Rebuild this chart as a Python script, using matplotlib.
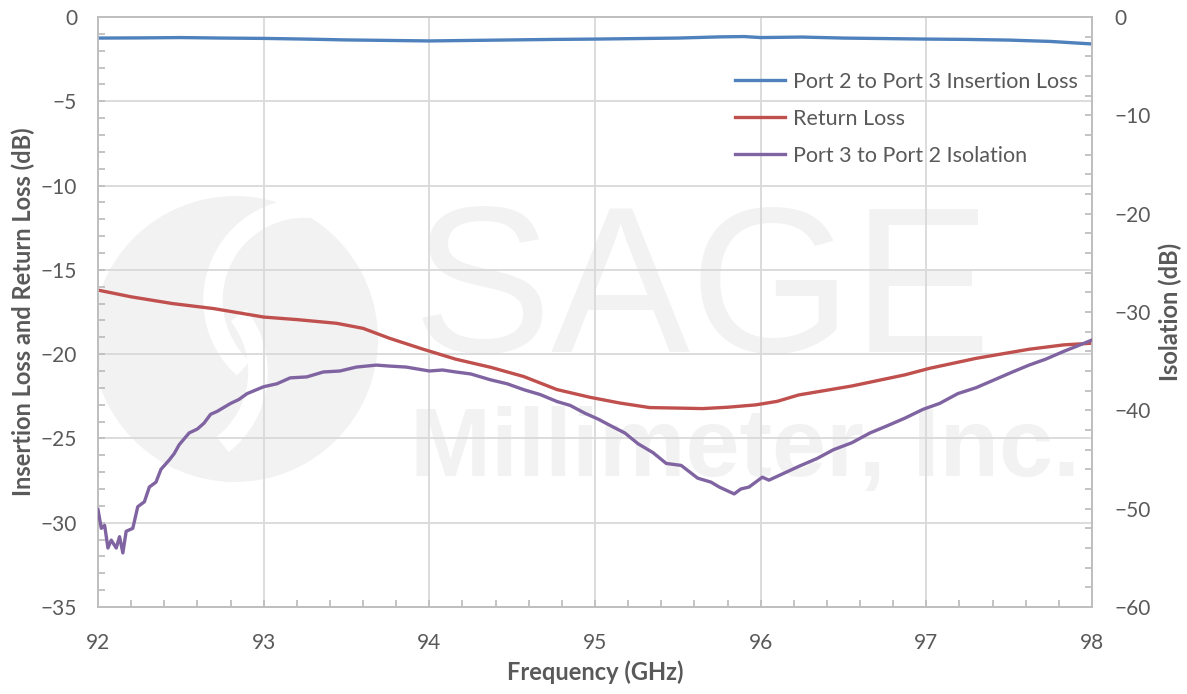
import matplotlib
matplotlib.use('Agg')
import matplotlib.pyplot as plt
from matplotlib.patches import Circle, Arc
from matplotlib.ticker import MultipleLocator
from matplotlib.lines import Line2D

plt.rcParams['font.family'] = ['Lato', 'DejaVu Sans']

# data
freq_il = [92.0, 92.25, 92.5, 92.75, 93.0, 93.25, 93.5, 93.75, 94.0, 94.25, 94.5,
           94.75, 95.0, 95.25, 95.5, 95.75, 95.9, 96.0, 96.25, 96.5, 96.75, 97.0,
           97.25, 97.5, 97.75, 98.0]
insertion_loss = [-1.25, -1.24, -1.22, -1.25, -1.27, -1.31, -1.36, -1.39, -1.42, -1.39,
                  -1.36, -1.33, -1.31, -1.28, -1.25, -1.18, -1.16, -1.22, -1.19, -1.25,
                  -1.28, -1.31, -1.33, -1.37, -1.45, -1.60]

freq_rl = [92.0, 92.2, 92.45, 92.7, 93.0, 93.2, 93.44, 93.6, 93.76, 93.96, 94.16,
           94.37, 94.57, 94.77, 94.97, 95.15, 95.33, 95.5, 95.65, 95.8, 95.97, 96.1,
           96.23, 96.55, 96.87, 97.02, 97.3, 97.62, 97.83, 98.0]
return_loss = [-16.2, -16.6, -17.0, -17.3, -17.8, -17.95, -18.17, -18.47, -19.06, -19.7,
               -20.3, -20.78, -21.33, -22.1, -22.56, -22.9, -23.17, -23.2, -23.23, -23.15,
               -23.01, -22.8, -22.42, -21.89, -21.23, -20.84, -20.25, -19.71, -19.45, -19.35]

freq_iso = [92.0, 92.02, 92.04, 92.06, 92.08, 92.11, 92.13, 92.15, 92.17, 92.21, 92.24,
            92.28, 92.31, 92.35, 92.38, 92.43, 92.46, 92.49, 92.55, 92.6, 92.64, 92.68,
            92.72, 92.8, 92.85, 92.9, 93.0, 93.08, 93.16, 93.26, 93.36, 93.46, 93.56,
            93.68, 93.76, 93.86, 94.0, 94.08, 94.16, 94.25, 94.37, 94.47, 94.57, 94.67,
            94.77, 94.85, 94.94, 95.02, 95.11, 95.18, 95.26, 95.35, 95.43, 95.52, 95.62,
            95.7, 95.75, 95.84, 95.88, 95.93, 96.01, 96.05, 96.14, 96.23, 96.34, 96.44,
            96.55, 96.66, 96.76, 96.87, 96.98, 97.08, 97.19, 97.3, 97.41, 97.52, 97.62,
            97.72, 97.83, 97.92, 98.0]
isolation = [-50.1, -52.0, -51.7, -54.0, -53.2, -54.0, -52.85, -54.5, -52.3, -52.0, -49.8,
             -49.3, -47.8, -47.3, -46.0, -45.05, -44.4, -43.5, -42.3, -41.9, -41.3, -40.4,
             -40.1, -39.3, -38.9, -38.3, -37.6, -37.3, -36.7, -36.6, -36.1, -36.0, -35.6,
             -35.4, -35.5, -35.6, -36.0, -35.9, -36.1, -36.3, -36.9, -37.3, -37.9, -38.4,
             -39.1, -39.5, -40.3, -40.9, -41.7, -42.3, -43.4, -44.3, -45.4, -45.6, -46.9,
             -47.3, -47.8, -48.5, -48.0, -47.8, -46.8, -47.1, -46.4, -45.7, -44.9, -44.0,
             -43.3, -42.3, -41.6, -40.8, -39.9, -39.3, -38.3, -37.7, -36.9, -36.1, -35.4,
             -34.8, -34.0, -33.4, -32.85]

labels = ['Port 2 to Port 3 Insertion Loss', 'Return Loss', 'Port 3 to Port 2 Isolation']
colors = ['#4F81BD', '#C0504D', '#8064A2']

grid_c = '#D9D9D9'
spine_c = '#BFBFBF'
text_c = '#595959'
wm_c = '#F2F2F2'
H = 6.94  # figure height in inches, used to place the watermark from the top

fig = plt.figure(figsize=(11.87, 6.94), dpi=100)
ax = fig.add_axes([98 / 1187, 1 - 607 / 694, 994 / 1187, 590 / 694])
ax2 = ax.twinx()

# watermark (logo + company name) behind the grid
ax.add_patch(Circle((2.35, H - 3.39), 1.43, transform=fig.dpi_scale_trans,
                    color=wm_c, zorder=0, lw=0))
ax.add_patch(Arc((3.05, H - 3.0), 1.84, 1.84, theta1=85, theta2=228,
                 transform=fig.dpi_scale_trans, color='white', lw=14, zorder=0))
ax.add_patch(Arc((1.66, H - 3.72), 1.84, 1.84, theta1=-52, theta2=38,
                 transform=fig.dpi_scale_trans, color='white', lw=14, zorder=0))
ax.text(7.02, H - 3.52, 'SAGE', transform=fig.dpi_scale_trans, fontsize=150,
        family='Liberation Sans', color=wm_c, ha='center', va='baseline', zorder=0)
ax.text(7.45, H - 4.76, 'Millimeter, Inc.', transform=fig.dpi_scale_trans,
        fontsize=70, family='Liberation Sans', fontweight='bold', color=wm_c,
        ha='center', va='baseline', zorder=0)

ax.set_axisbelow(True)
ax.grid(True, which='major', color=grid_c, lw=1.3)

ax.plot(freq_il, insertion_loss, color=colors[0], lw=2.4, zorder=3)
ax.plot(freq_rl, return_loss, color=colors[1], lw=2.4, zorder=3)
ax2.plot(freq_iso, isolation, color=colors[2], lw=2.4, zorder=3)

ax.set_xlim(92, 98)
ax.set_ylim(-35, 0)
ax2.set_ylim(-60, 0)
ax.xaxis.set_major_locator(MultipleLocator(1))
ax.xaxis.set_minor_locator(MultipleLocator(0.2))
ax.yaxis.set_major_locator(MultipleLocator(5))
ax.yaxis.set_minor_locator(MultipleLocator(1))
ax2.yaxis.set_major_locator(MultipleLocator(10))
ax2.yaxis.set_minor_locator(MultipleLocator(2))

for a in (ax, ax2):
    for s in a.spines.values():
        s.set_color(spine_c)
        s.set_linewidth(1.3)
    a.tick_params(which='both', direction='in', color=spine_c, width=1.3, length=5,
                  labelcolor=text_c, labelsize=15)
ax.tick_params(axis='y', pad=15)
ax.tick_params(axis='x', pad=19)
ax2.tick_params(axis='y', pad=16)

ax.set_xlabel('Frequency (GHz)', fontsize=17, fontweight='bold', color=text_c, labelpad=5)
ax.set_ylabel('Insertion Loss and Return Loss (dB)', fontsize=17, fontweight='bold',
              color=text_c, labelpad=4)
ax2.set_ylabel('Isolation (dB)', fontsize=17, fontweight='bold', color=text_c, labelpad=6)

handles = [Line2D([], [], color=c, lw=2.4) for c in colors]
ax2.legend(handles, labels, loc='upper left', bbox_to_anchor=(735 / 1187, 1 - 72 / 694),
           bbox_transform=fig.transFigure, frameon=False, fontsize=15.5, borderpad=0,
           borderaxespad=0, handlelength=2.3, handletextpad=0.4, labelspacing=0.78,
           labelcolor=text_c)

fig.savefig('out.png', dpi=100, facecolor='white')
